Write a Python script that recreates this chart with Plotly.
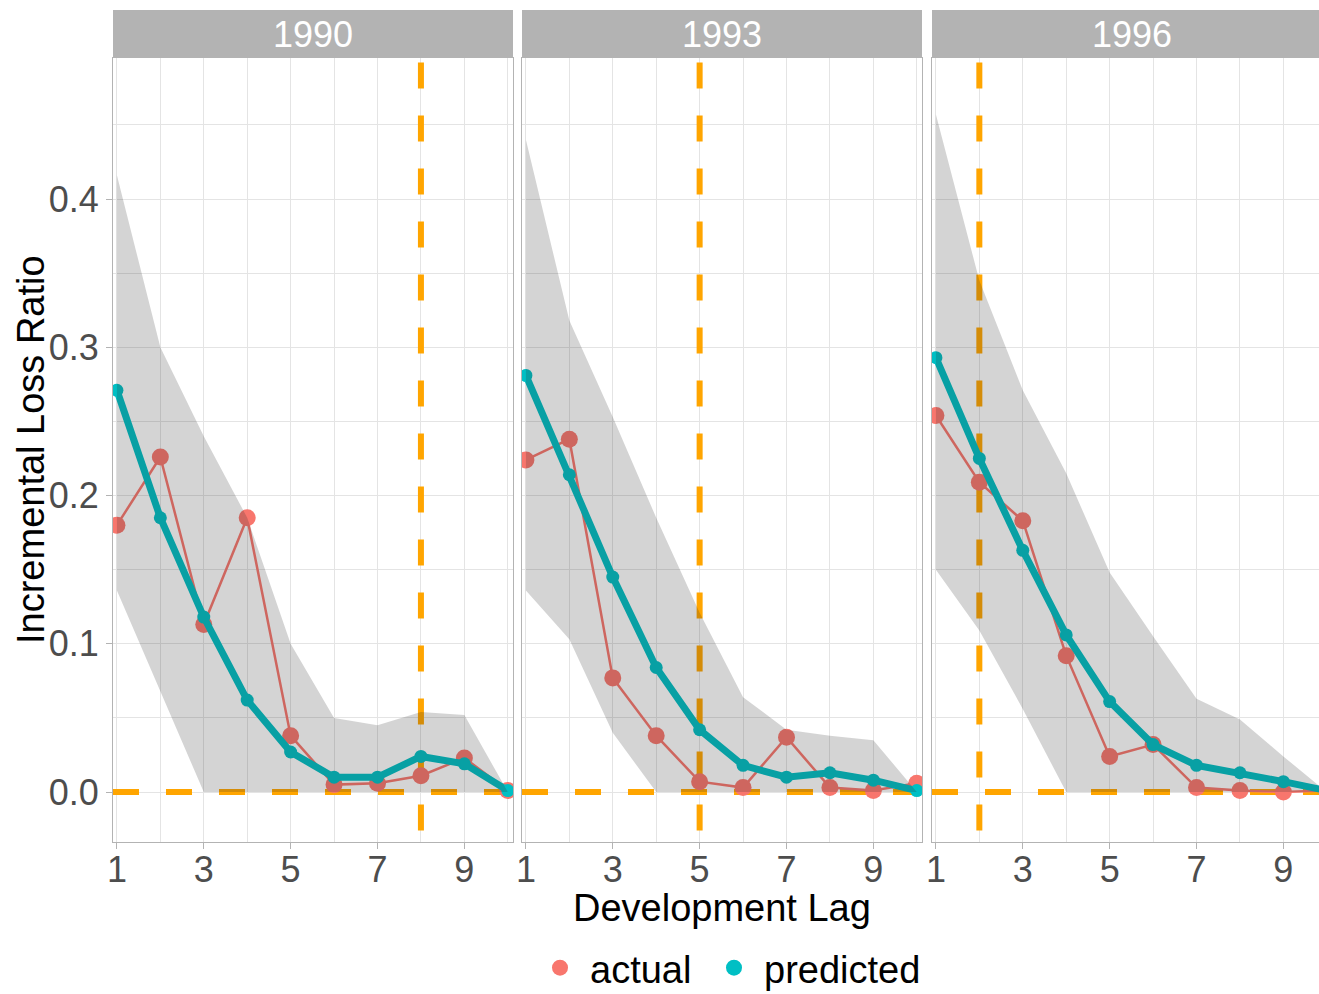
import plotly.graph_objects as go

# ---------------- data ----------------
years = ["1990", "1993", "1996"]
lags = [1, 2, 3, 4, 5, 6, 7, 8, 9, 10]
cutoff_lag = [8, 5, 2]

actual = {
    "1990": [0.180, 0.226, 0.113, 0.185, 0.038, 0.005, 0.006, 0.011, 0.023, 0.001],
    "1993": [0.224, 0.238, 0.077, 0.038, 0.007, 0.003, 0.037, 0.003, 0.001, 0.006],
    "1996": [0.254, 0.209, 0.183, 0.092, 0.024, 0.032, 0.003, 0.001, 0.000, 0.001],
}
predicted = {
    "1990": [0.271, 0.185, 0.118, 0.062, 0.027, 0.010, 0.010, 0.024, 0.019, 0.001],
    "1993": [0.281, 0.214, 0.145, 0.084, 0.042, 0.018, 0.010, 0.013, 0.008, 0.001],
    "1996": [0.293, 0.225, 0.163, 0.106, 0.061, 0.032, 0.018, 0.013, 0.007, 0.001],
}
upper = {
    "1990": [0.416, 0.300, 0.240, 0.185, 0.100, 0.050, 0.045, 0.054, 0.052, 0.000],
    "1993": [0.440, 0.318, 0.253, 0.185, 0.121, 0.064, 0.042, 0.038, 0.035, 0.000],
    "1996": [0.457, 0.345, 0.271, 0.215, 0.148, 0.105, 0.063, 0.049, 0.024, 0.000],
}
lower = {
    "1990": [0.136, 0.068, 0.000, 0.000, 0.000, 0.000, 0.000, 0.000, 0.000, 0.000],
    "1993": [0.136, 0.103, 0.040, 0.000, 0.000, 0.000, 0.000, 0.000, 0.000, 0.000],
    "1996": [0.150, 0.109, 0.056, 0.000, 0.000, 0.000, 0.000, 0.000, 0.000, 0.000],
}
y_ticks = [0.0, 0.1, 0.2, 0.3, 0.4]
x_ticks = [1, 3, 5, 7, 9]

# ---------------- style / layout ----------------
W, H = 1319, 994
FONT = "Liberation Sans, Arial, sans-serif"
RED = "#F8766D"
TEAL = "#00BFC4"
ORANGE = "#FFA500"
GRID = "#e4e4e4"
BORDER = "#b3b3b3"
STRIP = "#b3b3b3"

Y_RANGE = [-0.0337, 0.4951]
X_RANGES = [[0.91, 10.12], [0.91, 10.12], [0.91, 9.82]]
panel_px = [(113, 513), (522, 922), (932, 1319)]
strip_center_px = [313, 722, 1132]
top_px, bottom_px, strip_top_px = 58, 842, 10

def px_x(p):
    return p / W

def px_y(p):
    return 1 - p / H

fig = go.Figure()

for i, yr in enumerate(years):
    xa = "x" if i == 0 else f"x{i+1}"
    ya = "y" if i == 0 else f"y{i+1}"
    # horizontal reference at 0
    fig.add_trace(go.Scatter(
        x=[X_RANGES[i][0], X_RANGES[i][1]], y=[0, 0], mode="lines",
        line=dict(color=ORANGE, width=6, dash="26px,27px"),
        xaxis=xa, yaxis=ya, showlegend=False, hoverinfo="skip"))
    # vertical cutoff line
    fig.add_trace(go.Scatter(
        x=[cutoff_lag[i], cutoff_lag[i]], y=[Y_RANGE[1] - 0.003, Y_RANGE[0]], mode="lines",
        line=dict(color=ORANGE, width=6, dash="26px,27px"),
        xaxis=xa, yaxis=ya, showlegend=False, hoverinfo="skip"))
    # actual
    fig.add_trace(go.Scatter(
        x=lags, y=actual[yr], mode="lines+markers",
        line=dict(color=RED, width=2.5),
        marker=dict(color=RED, size=17),
        xaxis=xa, yaxis=ya, showlegend=False, name="actual"))
    # predicted
    fig.add_trace(go.Scatter(
        x=lags, y=predicted[yr], mode="lines+markers",
        line=dict(color=TEAL, width=7),
        marker=dict(color=TEAL, size=13),
        xaxis=xa, yaxis=ya, showlegend=False, name="predicted"))
    # ribbon (drawn on top, semi-transparent)
    fig.add_trace(go.Scatter(
        x=lags + lags[::-1], y=upper[yr] + lower[yr][::-1],
        mode="lines", fill="toself", fillcolor="rgba(40,40,40,0.2)",
        line=dict(width=0), xaxis=xa, yaxis=ya, showlegend=False, hoverinfo="skip"))

# legend entries (one legend box per key, as in the reference spacing)
fig.add_trace(go.Scatter(x=[None], y=[None], mode="markers", name="actual",
                         marker=dict(color=RED, size=16), legend="legend"))
fig.add_trace(go.Scatter(x=[None], y=[None], mode="markers", name="predicted",
                         marker=dict(color=TEAL, size=16), legend="legend2"))

legend_common = dict(orientation="h", xanchor="left", y=px_y(968), yanchor="middle",
                     font=dict(size=38, color="black", family=FONT), itemwidth=50,
                     bgcolor="rgba(0,0,0,0)", borderwidth=0)

layout = dict(
    width=W, height=H, autosize=False,
    margin=dict(l=0, r=0, t=0, b=0, autoexpand=False),
    paper_bgcolor="white", plot_bgcolor="white",
    font=dict(family=FONT, size=36, color="black"),
    showlegend=True,
    legend=dict(x=px_x(530), **legend_common),
    legend2=dict(x=px_x(704), **legend_common),
)

shapes = []
annotations = []
for i, yr in enumerate(years):
    sfx = "" if i == 0 else str(i + 1)
    x0, x1 = panel_px[i]
    layout["xaxis" + sfx] = dict(
        domain=[px_x(x0), px_x(x1)], range=X_RANGES[i], anchor="y" + sfx,
        tickmode="array", tickvals=x_ticks, ticktext=[str(t) for t in x_ticks],
        showgrid=True, gridcolor=GRID, gridwidth=1,
        minor=dict(dtick=1, tick0=0, showgrid=True, gridcolor=GRID, gridwidth=1, ticks=""),
        ticks="outside", ticklen=6, tickcolor=BORDER, ticklabelstandoff=-10,
        tickfont=dict(size=36, color="#4d4d4d", family=FONT),
        showline=True, mirror=True, linecolor=BORDER, linewidth=1,
        zeroline=False, fixedrange=True, automargin=False)
    layout["yaxis" + sfx] = dict(
        domain=[px_y(bottom_px), px_y(top_px)], range=Y_RANGE, anchor="x" + sfx,
        tickmode="array", tickvals=y_ticks, ticktext=[f"{t:.1f}" for t in y_ticks],
        showticklabels=(i == 0), ticks="outside" if i == 0 else "", ticklen=6, tickcolor=BORDER,
        tickfont=dict(size=36, color="#4d4d4d", family=FONT),
        showgrid=True, gridcolor=GRID, gridwidth=1,
        minor=dict(dtick=0.05, tick0=0, showgrid=True, gridcolor=GRID, gridwidth=1, ticks=""),
        showline=True, mirror=True, linecolor=BORDER, linewidth=1,
        zeroline=False, fixedrange=True, automargin=False)
    shapes.append(dict(type="rect", xref="paper", yref="paper",
                       x0=px_x(x0), x1=px_x(x1), y0=px_y(top_px), y1=px_y(strip_top_px),
                       fillcolor=STRIP, line=dict(width=0), layer="above"))
    annotations.append(dict(text=yr, xref="paper", yref="paper",
                            x=px_x(strip_center_px[i]), y=px_y(35),
                            xanchor="center", yanchor="middle", showarrow=False,
                            font=dict(size=36, color="white", family=FONT)))

annotations.append(dict(text="Development Lag", xref="paper", yref="paper",
                        x=px_x(722), y=px_y(908), xanchor="center", yanchor="middle",
                        showarrow=False, font=dict(size=38, color="black", family=FONT)))
annotations.append(dict(text="Incremental Loss Ratio", xref="paper", yref="paper",
                        x=px_x(31), y=px_y(450), xanchor="center", yanchor="middle",
                        textangle=-90, showarrow=False,
                        font=dict(size=38, color="black", family=FONT)))

layout["shapes"] = shapes
layout["annotations"] = annotations
fig.update_layout(**layout)

fig.write_html("out.html", include_plotlyjs=True, config={"displayModeBar": False})
